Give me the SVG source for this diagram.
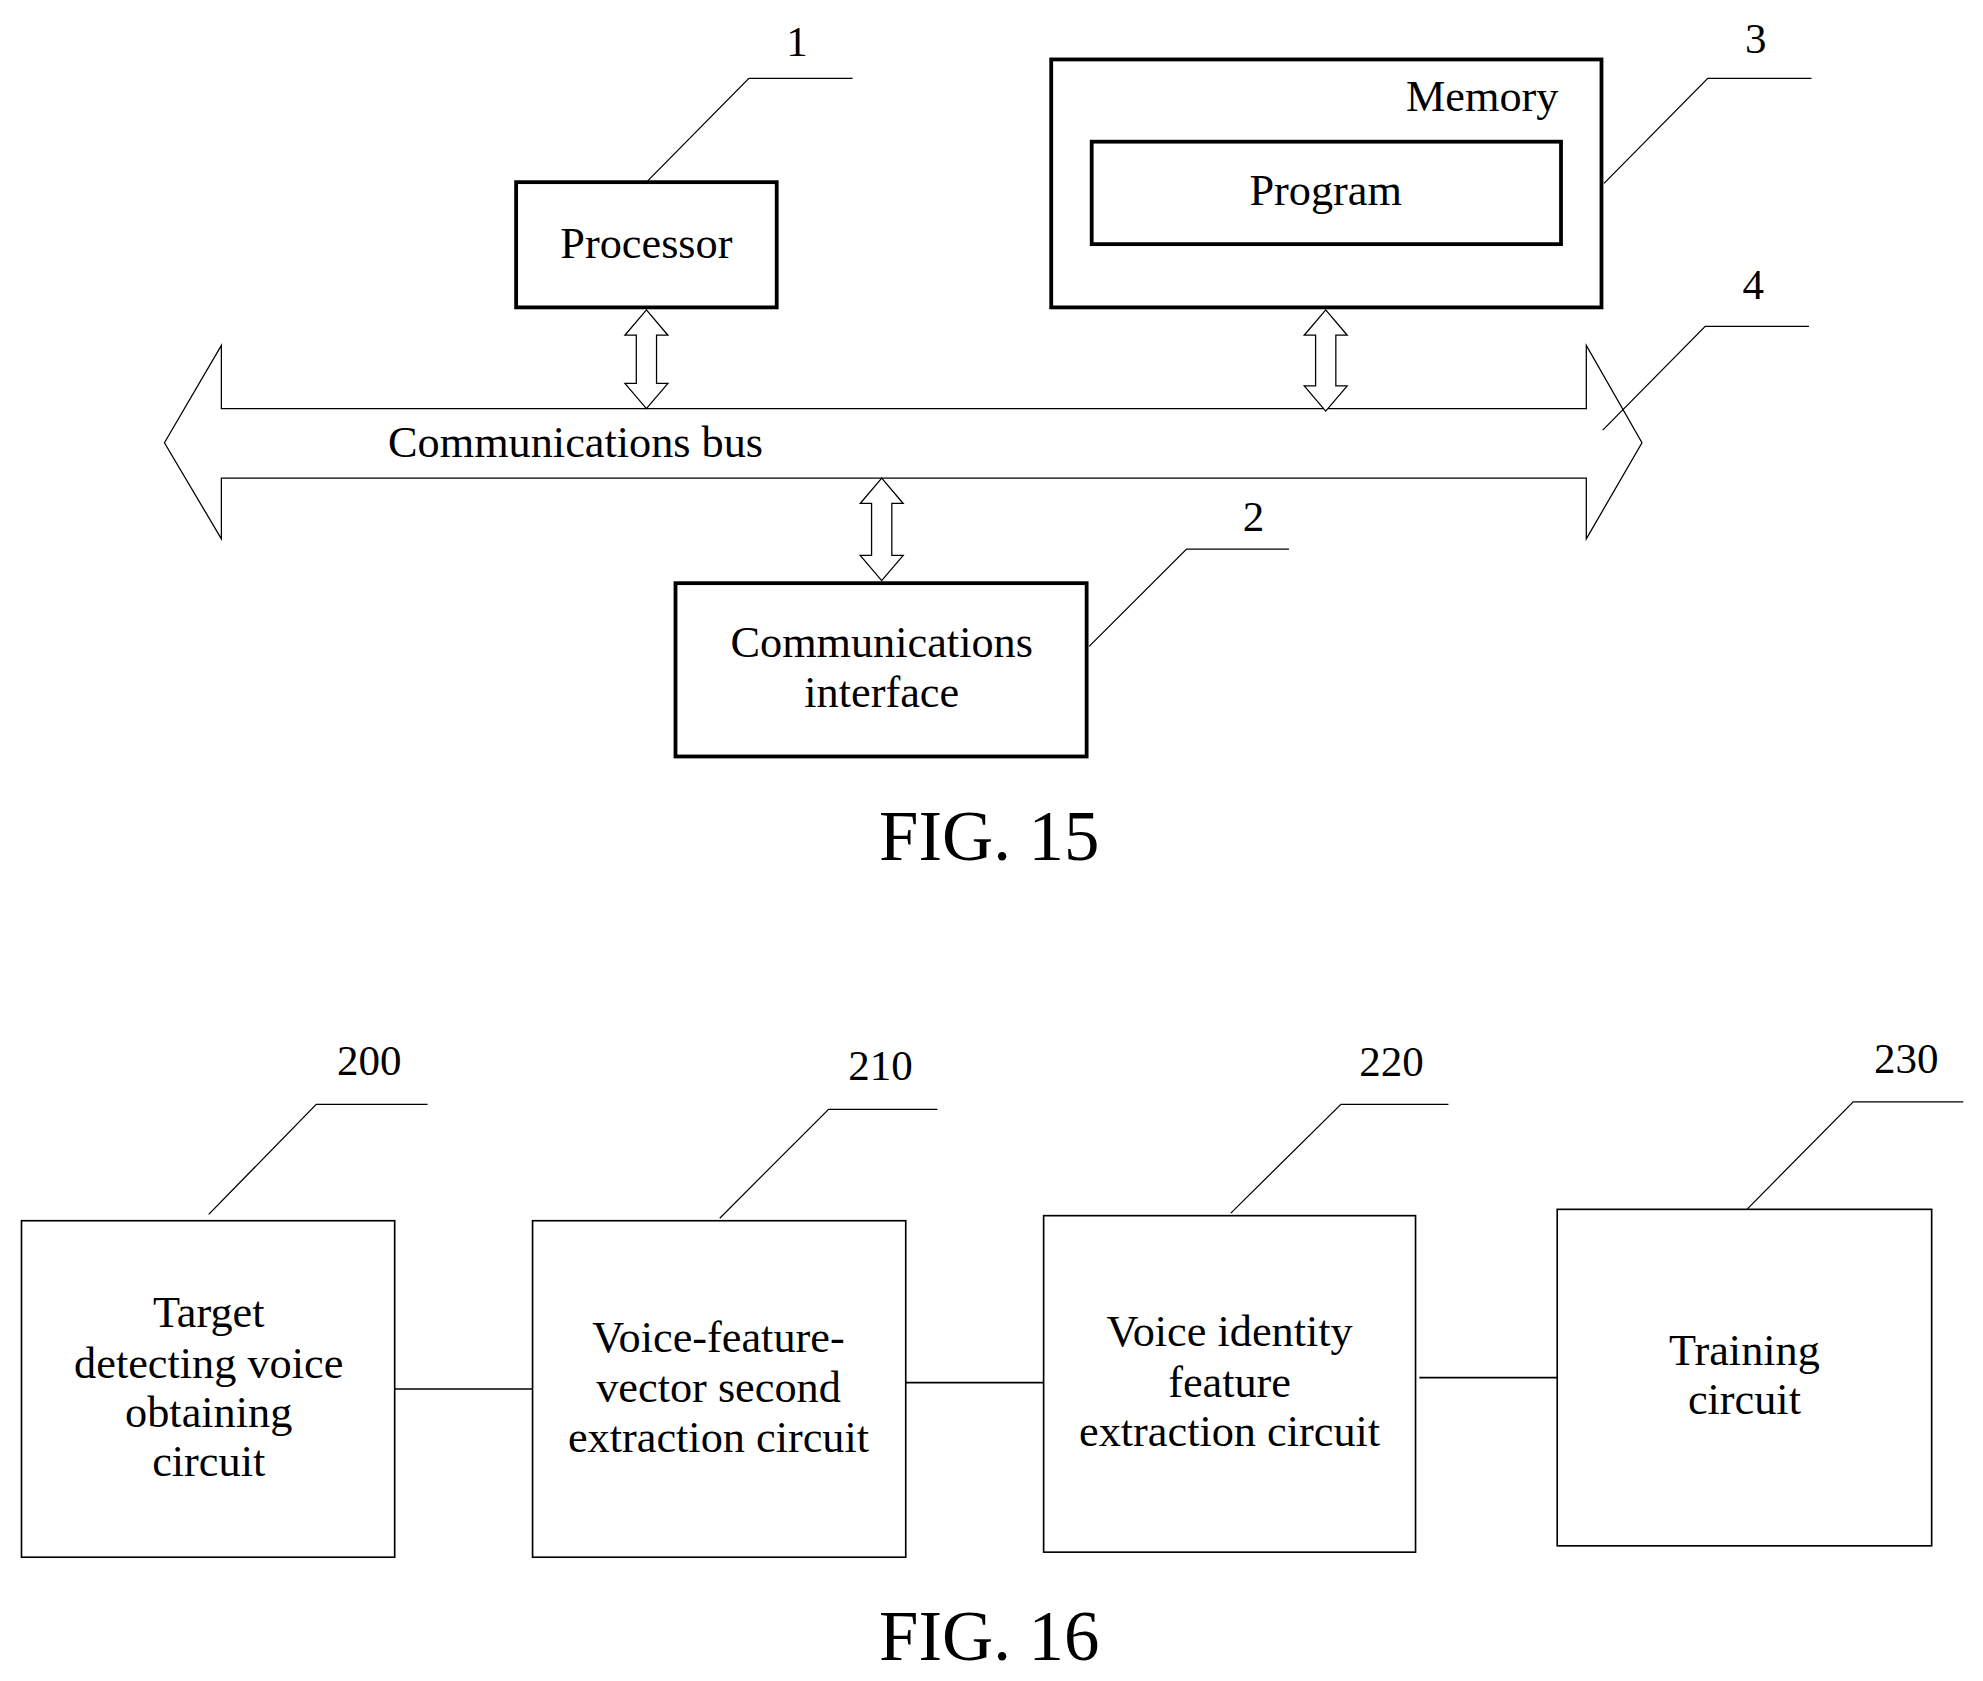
<svg xmlns="http://www.w3.org/2000/svg" width="1983" height="1681" viewBox="0 0 1983 1681">
<style>
text{font-family:"Liberation Serif","Times New Roman",serif;fill:#000;text-anchor:middle}
.t{font-size:35px}
.n{font-size:34px}
.fig{font-size:56px}
.thick{fill:none;stroke:#000;stroke-width:3}
.thin{fill:none;stroke:#000;stroke-width:1.3}
.lead{fill:none;stroke:#000;stroke-width:1}
.dar{fill:#fff;stroke:#000;stroke-width:1}
</style>
<rect width="1983" height="1681" fill="#fff"/>
<g transform="scale(1.265)">
<g id="connectors">
<polygon class="dar" points="130,350 175,273 175,323 1254,323 1254,273 1298,350 1254,426 1254,378 175,378 175,426"/>
<polygon class="dar" points="511,245 528,265 519,265 519,303 528,303 511,323 494,303 503,303 503,265 494,265"/>
<polygon class="dar" points="1048,245 1065,265 1056,265 1056,305 1065,305 1048,325 1031,305 1040,305 1040,265 1031,265"/>
<polygon class="dar" points="697,378 714,398 705,398 705,439 714,439 697,459 680,439 689,439 689,398 680,398"/>
<polyline class="lead" points="512,143 592,62 674,62"/>
<polyline class="lead" points="1268,145 1350,62 1432,62"/>
<polyline class="lead" points="1267,340 1348,258 1430,258"/>
<polyline class="lead" points="861,511 938,434 1019,434"/>
<polyline class="lead" points="165,960 250,873 338,873"/>
<polyline class="lead" points="569,963 655,877 741,877"/>
<polyline class="lead" points="973,959 1060,873 1145,873"/>
<polyline class="lead" points="1381,956 1465,871 1552,871"/>
<line class="thin" x1="312" y1="1098" x2="421" y2="1098"/>
<line class="thin" x1="716" y1="1093" x2="825" y2="1093"/>
<line class="thin" x1="1122" y1="1089" x2="1231" y2="1089"/>
</g>
<text class="t" x="455" y="361">Communications bus</text>
<g id="processor"><rect class="thick" x="408" y="144" width="206" height="99"/><text class="t" x="511" y="204">Processor</text><text class="n" x="630" y="44">1</text></g>
<g id="memory"><rect class="thick" x="831" y="47" width="435" height="196"/><text class="t" x="1232" y="88" style="text-anchor:end">Memory</text><text class="n" x="1388" y="42">3</text></g>
<g id="program"><rect class="thick" x="863" y="112" width="371" height="81"/><text class="t" x="1048" y="162">Program</text></g>
<g id="bus-label"><text class="n" x="1386" y="236">4</text></g>
<g id="interface"><rect class="thick" x="534" y="461" width="325" height="137"/><text class="t" x="697" y="519">Communications</text><text class="t" x="697" y="559">interface</text><text class="n" x="991" y="420">2</text></g>
<text class="fig" x="782" y="680">FIG. 15</text>
<g id="n200"><rect class="thin" x="17" y="965" width="295" height="266"/><text class="t" x="165" y="1049">Target</text><text class="t" x="165" y="1089">detecting voice</text><text class="t" x="165" y="1128">obtaining</text><text class="t" x="165" y="1167">circuit</text><text class="n" x="292" y="850">200</text></g>
<g id="n210"><rect class="thin" x="421" y="965" width="295" height="266"/><text class="t" x="568" y="1069">Voice-feature-</text><text class="t" x="568" y="1108">vector second</text><text class="t" x="568" y="1148">extraction circuit</text><text class="n" x="696" y="854">210</text></g>
<g id="n220"><rect class="thin" x="825" y="961" width="294" height="266"/><text class="t" x="972" y="1064">Voice identity</text><text class="t" x="972" y="1104">feature</text><text class="t" x="972" y="1143">extraction circuit</text><text class="n" x="1100" y="851">220</text></g>
<g id="n230"><rect class="thin" x="1231" y="956" width="296" height="266"/><text class="t" x="1379" y="1079">Training</text><text class="t" x="1379" y="1118">circuit</text><text class="n" x="1507" y="848">230</text></g>
<text class="fig" x="782" y="1312">FIG. 16</text>
</g>
</svg>
